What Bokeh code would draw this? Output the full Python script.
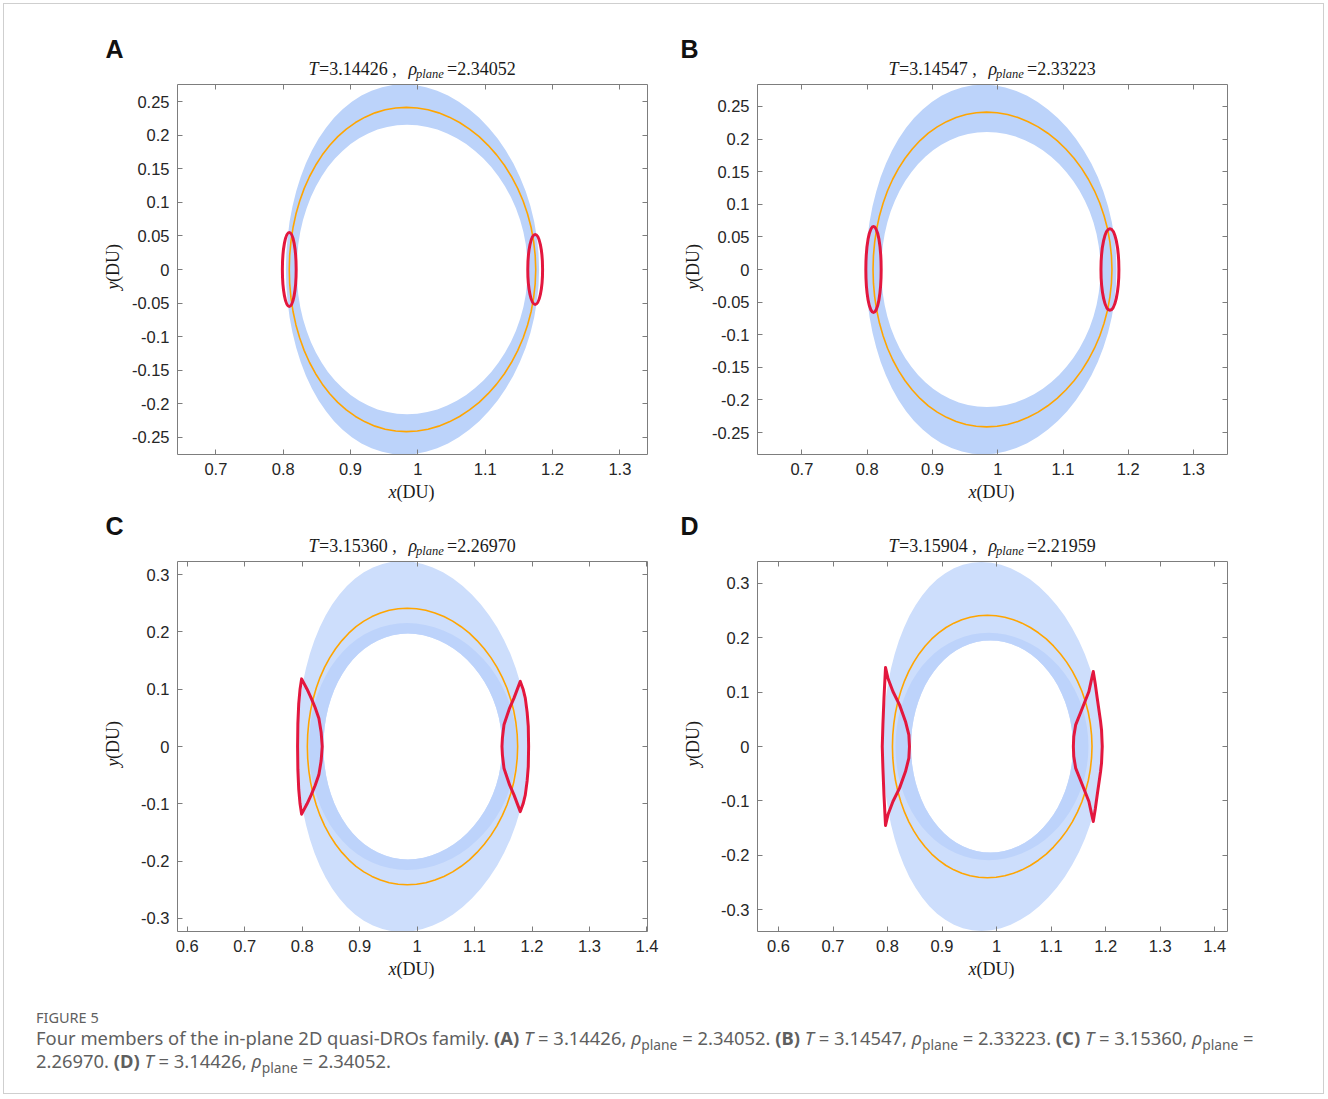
from math import pi
from bokeh.plotting import figure
from bokeh.models import (LinearAxis, FixedTicker, CustomJSTickFormatter,
                          Range1d, Div, Spacer)
from bokeh.layouts import column, row
from bokeh.embed import file_html
from bokeh.resources import INLINE
from bokeh.core.properties import value

# ---------------- data ----------------
PANEL_LETTERS = ["A", "B", "C", "D"]
PANEL_T = ["3.14426", "3.14547", "3.15360", "3.15904"]
PANEL_RHO = ["2.34052", "2.33223", "2.26970", "2.21959"]

X_TICKS_AB = [0.7, 0.8, 0.9, 1.0, 1.1, 1.2, 1.3]
Y_TICKS_AB = [-0.25, -0.2, -0.15, -0.1, -0.05, 0.0, 0.05, 0.1, 0.15, 0.2, 0.25]
X_TICKS_CD = [0.6, 0.7, 0.8, 0.9, 1.0, 1.1, 1.2, 1.3, 1.4]
Y_TICKS_CD = [-0.3, -0.2, -0.1, 0.0, 0.1, 0.2, 0.3]

X_LIMITS = [(0.643, 1.341), (0.632, 1.352), (0.583, 1.401), (0.5615, 1.4235)]
Y_LIMITS = [(-0.2753, 0.2753), (-0.2837, 0.2837), (-0.3228, 0.3228), (-0.3400, 0.3400)]

# periodic DRO (orange), upper half (right crossing -> top -> left crossing)
ORBIT_X = [1.175, 1.1742, 1.1719, 1.1682, 1.1629, 1.1563, 1.1482, 1.1389, 1.1285, 1.1169,
           1.1043, 1.091, 1.0767, 1.0619, 1.0467, 1.031, 1.0151, 0.9991, 0.983, 0.9671,
           0.9515, 0.9362, 0.9215, 0.9073, 0.8937, 0.881, 0.8691, 0.8581, 0.8481, 0.8391,
           0.8312, 0.8245, 0.8189, 0.8146, 0.8115, 0.8096, 0.809]
ORBIT_Y = [0, 0.021, 0.0419, 0.0625, 0.0825, 0.102, 0.1207, 0.1384, 0.1551, 0.1706,
           0.1848, 0.1977, 0.209, 0.2187, 0.2267, 0.2331, 0.2376, 0.2404, 0.2413, 0.2404,
           0.2376, 0.2331, 0.2267, 0.2187, 0.209, 0.1977, 0.1848, 0.1706, 0.1551, 0.1384,
           0.1207, 0.102, 0.0825, 0.0625, 0.0419, 0.021, 0]

# quasi-periodic torus bands (upper halves of boundaries)
A_OUT_X = [1.18, 1.1792, 1.1767, 1.1727, 1.1672, 1.1601, 1.1515, 1.1417, 1.1306, 1.1184,
           1.1052, 1.0911, 1.0762, 1.0607, 1.0448, 1.0286, 1.012, 0.9955, 0.979, 0.9627,
           0.9468, 0.9312, 0.9162, 0.9019, 0.8882, 0.8755, 0.8636, 0.8526, 0.8426, 0.8337,
           0.8259, 0.8193, 0.8138, 0.8095, 0.8065, 0.8046, 0.804]
A_OUT_Y = [0, 0.024, 0.0478, 0.0713, 0.0942, 0.1164, 0.1378, 0.158, 0.1771, 0.1948,
           0.211, 0.2257, 0.2386, 0.2497, 0.2589, 0.2661, 0.2713, 0.2745, 0.2755, 0.2745,
           0.2713, 0.2661, 0.2589, 0.2497, 0.2386, 0.2257, 0.211, 0.1948, 0.1771, 0.158,
           0.1378, 0.1164, 0.0942, 0.0713, 0.0478, 0.024, 0]
A_IN_X = [1.163, 1.1622, 1.1602, 1.1567, 1.1518, 1.1456, 1.1381, 1.1295, 1.1198, 1.109,
          1.0973, 1.0849, 1.0717, 1.0578, 1.0436, 1.0289, 1.014, 0.9991, 0.984, 0.9691,
          0.9544, 0.9401, 0.9262, 0.9128, 0.9001, 0.8881, 0.8769, 0.8664, 0.857, 0.8485,
          0.8411, 0.8348, 0.8294, 0.8253, 0.8224, 0.8206, 0.82]
A_IN_Y = [0, 0.0188, 0.0374, 0.0558, 0.0737, 0.0911, 0.1078, 0.1236, 0.1385, 0.1524,
          0.1651, 0.1765, 0.1866, 0.1953, 0.2025, 0.2082, 0.2122, 0.2147, 0.2155, 0.2147,
          0.2122, 0.2082, 0.2025, 0.1953, 0.1866, 0.1765, 0.1651, 0.1524, 0.1385, 0.1236,
          0.1078, 0.0911, 0.0737, 0.0558, 0.0374, 0.0188, 0]

B_OUT_X = [1.182, 1.1812, 1.1787, 1.1747, 1.169, 1.1619, 1.1533, 1.1434, 1.1321, 1.1198,
           1.1064, 1.092, 1.077, 1.0612, 1.0451, 1.0285, 1.0117, 0.9948, 0.978, 0.9614,
           0.9451, 0.9291, 0.9137, 0.899, 0.885, 0.8718, 0.8596, 0.8482, 0.8379, 0.8288,
           0.8207, 0.8139, 0.8082, 0.8037, 0.8005, 0.7986, 0.798]
B_OUT_Y = [0, 0.0247, 0.0492, 0.0734, 0.097, 0.1198, 0.1418, 0.1626, 0.1822, 0.2005,
           0.2172, 0.2322, 0.2455, 0.2569, 0.2664, 0.2738, 0.2792, 0.2824, 0.2835, 0.2824,
           0.2792, 0.2738, 0.2664, 0.2569, 0.2455, 0.2322, 0.2172, 0.2005, 0.1822, 0.1626,
           0.1418, 0.1198, 0.097, 0.0734, 0.0492, 0.0247, 0]
B_IN_X = [1.1575, 1.1569, 1.1547, 1.1514, 1.1467, 1.1407, 1.1335, 1.1251, 1.1157, 1.1053,
          1.094, 1.0819, 1.069, 1.0556, 1.0417, 1.0274, 1.0129, 0.9981, 0.9835, 0.9689,
          0.9545, 0.9404, 0.9267, 0.9136, 0.901, 0.8891, 0.878, 0.8677, 0.8583, 0.8499,
          0.8425, 0.8361, 0.8309, 0.8268, 0.8239, 0.8221, 0.8215]
B_IN_Y = [0, 0.0184, 0.0366, 0.0546, 0.0722, 0.0892, 0.1055, 0.121, 0.1356, 0.1492,
          0.1616, 0.1729, 0.1827, 0.1912, 0.1983, 0.2038, 0.2078, 0.2102, 0.211, 0.2102,
          0.2078, 0.2038, 0.1983, 0.1912, 0.1827, 0.1729, 0.1616, 0.1492, 0.1356, 0.121,
          0.1055, 0.0892, 0.0722, 0.0546, 0.0366, 0.0184, 0]

C_OUT_X = [1.194, 1.1931, 1.1903, 1.1859, 1.1796, 1.1718, 1.1624, 1.1515, 1.1392, 1.1257,
           1.1111, 1.0957, 1.0794, 1.0625, 1.0451, 1.0273, 1.0096, 0.9917, 0.974, 0.9565,
           0.9396, 0.9231, 0.9073, 0.8921, 0.8778, 0.8645, 0.8521, 0.8407, 0.8306, 0.8213,
           0.8134, 0.8066, 0.801, 0.7967, 0.7935, 0.7917, 0.791]
C_OUT_Y = [0, 0.0282, 0.0562, 0.0837, 0.1106, 0.1367, 0.1618, 0.1856, 0.2079, 0.2287,
           0.2478, 0.265, 0.2802, 0.2932, 0.304, 0.3125, 0.3186, 0.3223, 0.3235, 0.3223,
           0.3186, 0.3125, 0.304, 0.2932, 0.2802, 0.265, 0.2478, 0.2287, 0.2079, 0.1856,
           0.1618, 0.1367, 0.1106, 0.0837, 0.0562, 0.0282, 0]
C_IN_X = [1.148, 1.1473, 1.1453, 1.1421, 1.1376, 1.1319, 1.1251, 1.1171, 1.1081, 1.0982,
          1.0875, 1.076, 1.0639, 1.0512, 1.0382, 1.0248, 1.0113, 0.9977, 0.984, 0.9705,
          0.9573, 0.9444, 0.9318, 0.9198, 0.9083, 0.8976, 0.8875, 0.8782, 0.8699, 0.8623,
          0.8557, 0.8501, 0.8454, 0.8417, 0.8391, 0.8375, 0.837]
C_IN_Y = [0, 0.0172, 0.0342, 0.051, 0.0674, 0.0833, 0.0985, 0.113, 0.1266, 0.1393,
          0.1509, 0.1614, 0.1706, 0.1785, 0.1851, 0.1903, 0.194, 0.1963, 0.197, 0.1963,
          0.194, 0.1903, 0.1851, 0.1785, 0.1706, 0.1614, 0.1509, 0.1393, 0.1266, 0.113,
          0.0985, 0.0833, 0.0674, 0.051, 0.0342, 0.0172, 0]
C_MID_X = [1.1735, 1.1727, 1.1704, 1.1666, 1.1614, 1.1547, 1.1467, 1.1375, 1.127, 1.1155,
           1.1029, 1.0896, 1.0755, 1.0608, 1.0456, 1.03, 1.0142, 0.9984, 0.9825, 0.9668,
           0.9514, 0.9364, 0.9218, 0.9078, 0.8945, 0.882, 0.8703, 0.8595, 0.8498, 0.8409,
           0.8333, 0.8267, 0.8212, 0.817, 0.814, 0.8121, 0.8115]
C_MID_Y = [0, 0.0188, 0.0374, 0.0558, 0.0737, 0.0911, 0.1078, 0.1236, 0.1385, 0.1524,
           0.1651, 0.1765, 0.1866, 0.1953, 0.2025, 0.2082, 0.2122, 0.2147, 0.2155, 0.2147,
           0.2122, 0.2082, 0.2025, 0.1953, 0.1866, 0.1765, 0.1651, 0.1524, 0.1385, 0.1236,
           0.1078, 0.0911, 0.0737, 0.0558, 0.0374, 0.0188, 0]

D_OUT_X = [1.194, 1.193, 1.1903, 1.1858, 1.1795, 1.1715, 1.162, 1.151, 1.1385, 1.125,
           1.1103, 1.0947, 1.0783, 1.0613, 1.0437, 1.0259, 1.0081, 0.9903, 0.9725, 0.9551,
           0.9381, 0.9217, 0.9059, 0.8909, 0.8767, 0.8635, 0.8513, 0.84, 0.8299, 0.8208,
           0.813, 0.8063, 0.8009, 0.7966, 0.7935, 0.7916, 0.791]
D_OUT_Y = [0, 0.0296, 0.0589, 0.0877, 0.1159, 0.1433, 0.1695, 0.1945, 0.2179, 0.2397,
           0.2597, 0.2777, 0.2936, 0.3072, 0.3186, 0.3274, 0.3338, 0.3377, 0.339, 0.3377,
           0.3338, 0.3274, 0.3186, 0.3072, 0.2936, 0.2777, 0.2597, 0.2397, 0.2179, 0.1945,
           0.1695, 0.1433, 0.1159, 0.0877, 0.0589, 0.0296, 0]
D_IN_X = [1.14, 1.1394, 1.1376, 1.1347, 1.1306, 1.1256, 1.1193, 1.1122, 1.1041, 1.095,
          1.0852, 1.0747, 1.0635, 1.0518, 1.0397, 1.0271, 1.0144, 1.0014, 0.9885, 0.9756,
          0.9628, 0.9503, 0.9381, 0.9262, 0.9149, 0.9043, 0.8942, 0.885, 0.8765, 0.8688,
          0.8621, 0.8564, 0.8516, 0.8479, 0.8452, 0.8436, 0.843]
D_IN_Y = [0, 0.017, 0.0339, 0.0505, 0.0667, 0.0824, 0.0975, 0.1119, 0.1253, 0.1379,
          0.1494, 0.1597, 0.1689, 0.1767, 0.1832, 0.1884, 0.192, 0.1943, 0.195, 0.1943,
          0.192, 0.1884, 0.1832, 0.1767, 0.1689, 0.1597, 0.1494, 0.1379, 0.1253, 0.1119,
          0.0975, 0.0824, 0.0667, 0.0505, 0.0339, 0.017, 0]
D_MID_X = [1.1685, 1.1678, 1.1656, 1.1621, 1.1571, 1.1508, 1.1433, 1.1345, 1.1246, 1.1137,
           1.1018, 1.089, 1.0755, 1.0614, 1.0467, 1.0317, 1.0164, 1.0009, 0.9855, 0.9701,
           0.955, 0.9401, 0.9257, 0.9118, 0.8985, 0.886, 0.8742, 0.8633, 0.8534, 0.8445,
           0.8367, 0.83, 0.8245, 0.8201, 0.817, 0.8152, 0.8145]
D_MID_Y = [0, 0.0182, 0.0363, 0.0541, 0.0715, 0.0883, 0.1045, 0.1199, 0.1343, 0.1478,
           0.1601, 0.1712, 0.181, 0.1894, 0.1964, 0.2019, 0.2058, 0.2082, 0.209, 0.2082,
           0.2058, 0.2019, 0.1964, 0.1894, 0.181, 0.1712, 0.1601, 0.1478, 0.1343, 0.1199,
           0.1045, 0.0883, 0.0715, 0.0541, 0.0363, 0.0182, 0]

# red invariant curves, panels A and B (ellipses: centre x, width, height)
RED_A_X = [0.809, 1.1742]
RED_A_W = [0.0205, 0.022]
RED_A_H = [0.110, 0.104]
RED_B_X = [0.8097, 1.1719]
RED_B_W = [0.0235, 0.0275]
RED_B_H = [0.132, 0.125]

# red invariant curves, panels C and D (upper half: outer side -> cusp -> inner side)
RED_C_L_X = [0.792, 0.7925, 0.794, 0.7963, 0.799, 0.8085, 0.8157, 0.8225, 0.829, 0.833, 0.8349]
RED_C_L_Y = [0, 0.04, 0.075, 0.1, 0.118, 0.1, 0.0845, 0.068, 0.0495, 0.025, 0]
RED_C_R_X = [1.1941, 1.1935, 1.1915, 1.1883, 1.1845, 1.1796, 1.1686, 1.161, 1.1512, 1.1485, 1.1477]
RED_C_R_Y = [0, 0.035, 0.06, 0.0844, 0.1, 0.1136, 0.0844, 0.067, 0.0378, 0.015, 0]
RED_D_L_X = [0.7903, 0.7915, 0.7935, 0.7963, 0.8007, 0.8099, 0.822, 0.8329, 0.8391, 0.8402]
RED_D_L_Y = [0, 0.04, 0.09, 0.1452, 0.1256, 0.1011, 0.0765, 0.046, 0.0214, 0]
RED_D_R_X = [1.1938, 1.1925, 1.1907, 1.1846, 1.181, 1.1773, 1.1736, 1.1693, 1.1572, 1.145, 1.1415, 1.1408]
RED_D_R_Y = [0, 0.03, 0.046, 0.0888, 0.115, 0.1379, 0.121, 0.1011, 0.0704, 0.0397, 0.018, 0]

# ---------------- style ----------------
FRAME_W, FRAME_H = 470, 370
BAND_COLOR = "#bcd3fa"
BAND_LIGHT = "#cddefc"
BAND_DENSE = "#bdd3fb"
ORANGE = "#ffa500"
RED = "#e3173e"
AXIS_COLOR = "#7d7d7d"
TICK_TEXT = "#262626"
TEXT = "#1a1a1a"
SERIF = "Liberation Serif"
SANS = "Liberation Sans"
MID = 0.34  # distance (in em) from the alphabetic baseline to the text middle


def mirror_closed(xs, ys):
    """Close an upper-half curve with its mirror image about y = 0."""
    return list(xs) + list(xs[::-1]), list(ys) + [-v for v in ys[::-1]]


def strip(w, h):
    return figure(width=w, height=h, x_range=Range1d(0, w), y_range=Range1d(0, h),
                  output_backend="svg", toolbar_location=None,
                  x_axis_type=None, y_axis_type=None, min_border=0,
                  outline_line_color=None, background_fill_color="white",
                  border_fill_color="white")


def put_text(f, x, y, s, size=18.0, style="normal", font=SERIF, rotated=False, color=TEXT):
    """(x, y) is the start of the alphabetic baseline, in strip pixels."""
    if rotated:
        x, y, angle = x - MID * size, y, pi / 2
    else:
        x, y, angle = x, y + MID * size, 0.0
    f.text(x=[x], y=[y], text=[s], text_font=value(font),
           text_font_size=value("%gpx" % size), text_font_style=value(style),
           text_color=color, angle=angle, text_align="left", text_baseline="middle")


def make_main(i, xticks, yticks):
    xr, yr = X_LIMITS[i], Y_LIMITS[i]
    p = figure(width=550, height=397, frame_width=FRAME_W, frame_height=FRAME_H,
               x_range=Range1d(*xr), y_range=Range1d(*yr),
               output_backend="svg", toolbar_location=None,
               min_border_left=51, min_border_right=33,
               min_border_top=0, min_border_bottom=27,
               background_fill_color="white", border_fill_color="white")
    p.outline_line_color = None
    p.xgrid.visible = False
    p.ygrid.visible = False
    fmt = CustomJSTickFormatter(code="return String(Math.round(tick*1000)/1000);")
    empty = CustomJSTickFormatter(code="return '';")
    for ax, ticks, standoff in ((p.xaxis[0], xticks, 8), (p.yaxis[0], yticks, 8)):
        ax.ticker = FixedTicker(ticks=ticks)
        ax.formatter = fmt
        ax.major_label_standoff = standoff
        ax.major_label_text_font = SANS
        ax.major_label_text_font_size = "16.5px"
        ax.major_label_text_color = TICK_TEXT
    for loc, ticks in (("above", xticks), ("right", yticks)):
        ax = LinearAxis(ticker=FixedTicker(ticks=ticks), formatter=empty,
                        major_label_text_font_size="0px", major_label_standoff=0)
        p.add_layout(ax, loc)
    for ax in p.axis:
        ax.axis_line_color = AXIS_COLOR
        ax.axis_line_width = 1
        ax.major_tick_line_color = AXIS_COLOR
        ax.major_tick_in = 5
        ax.major_tick_out = 0
        ax.minor_tick_line_color = None
    return p


def wrap_panel(i, main, letter_x):
    fl = 77  # frame left inside the 580 px wide panel
    top = strip(580, 54)
    put_text(top, letter_x, 27, PANEL_LETTERS[i], 25, "bold", SANS, color="#111111")
    put_text(top, fl + 131, 9, "T", 18, "italic")
    put_text(top, fl + 141.5, 9, "=" + PANEL_T[i] + " ,", 18)
    put_text(top, fl + 231, 9, "\u03c1", 18, "italic")
    put_text(top, fl + 238.5, 6, "plane", 12.5, "italic")
    put_text(top, fl + 269.5, 9, "=" + PANEL_RHO[i], 18)
    left = strip(26, 397)
    put_text(left, 19, 397 - 220, "y", 18, "italic", rotated=True)
    put_text(left, 19, 397 - 212, "(DU)", 18, rotated=True)
    bottom = strip(580, 26)
    put_text(bottom, fl + 211, 9.5, "x", 18, "italic")
    put_text(bottom, fl + 219, 9.5, "(DU)", 18)
    return column(top, row(left, main), bottom)


def add_band(p, out_xy, in_xy, color):
    ox, oy = mirror_closed(*out_xy)
    ix, iy = mirror_closed(*in_xy)
    p.multi_polygons(xs=[[[ox, ix]]], ys=[[[oy, iy]]], fill_color=color, line_color=None)


def add_orbit(p):
    x, y = mirror_closed(ORBIT_X, ORBIT_Y)
    p.line(x, y, line_color=ORANGE, line_width=1.6)


def add_red_paths(p, paths):
    for xs, ys in paths:
        x, y = mirror_closed(xs, ys)
        p.line(x, y, line_color=RED, line_width=3, line_join="round")


# Panel A
mA = make_main(0, X_TICKS_AB, Y_TICKS_AB)
add_band(mA, (A_OUT_X, A_OUT_Y), (A_IN_X, A_IN_Y), BAND_COLOR)
add_orbit(mA)
mA.ellipse(x=RED_A_X, y=[0, 0], width=RED_A_W, height=RED_A_H,
           fill_color=None, line_color=RED, line_width=3)

# Panel B
mB = make_main(1, X_TICKS_AB, Y_TICKS_AB)
add_band(mB, (B_OUT_X, B_OUT_Y), (B_IN_X, B_IN_Y), BAND_COLOR)
add_orbit(mB)
mB.ellipse(x=RED_B_X, y=[0, 0], width=RED_B_W, height=RED_B_H,
           fill_color=None, line_color=RED, line_width=3)

# Panel C
mC = make_main(2, X_TICKS_CD, Y_TICKS_CD)
add_band(mC, (C_OUT_X, C_OUT_Y), (C_IN_X, C_IN_Y), BAND_LIGHT)
add_band(mC, (C_MID_X, C_MID_Y), (C_IN_X, C_IN_Y), BAND_DENSE)
add_orbit(mC)
add_red_paths(mC, [(RED_C_L_X, RED_C_L_Y), (RED_C_R_X, RED_C_R_Y)])

# Panel D
mD = make_main(3, X_TICKS_CD, Y_TICKS_CD)
add_band(mD, (D_OUT_X, D_OUT_Y), (D_IN_X, D_IN_Y), BAND_LIGHT)
add_band(mD, (D_MID_X, D_MID_Y), (D_IN_X, D_IN_Y), BAND_DENSE)
add_orbit(mD)
add_red_paths(mD, [(RED_D_L_X, RED_D_L_Y), (RED_D_R_X, RED_D_R_Y)])

pA = wrap_panel(0, mA, 5)
pB = wrap_panel(1, mB, 0)
pC = wrap_panel(2, mC, 5)
pD = wrap_panel(3, mD, 0)

SUB = '<sub style="font-size:75%;line-height:0;vertical-align:-0.35em;">plane</sub>'
caption_html = (
    '<div style="font-family:\'Noto Sans\',sans-serif;color:#5f5f5f;padding:25px 0 0 32px;">'
    '<div style="font-size:14.5px;line-height:17px;">FIGURE 5</div>'
    '<div style="font-size:18.4px;line-height:23px;">'
    'Four members of the in-plane 2D quasi-DROs family. '
    '<b>(A)</b> <i>T</i> = 3.14426, <i>\u03c1</i>' + SUB + ' = 2.34052. '
    '<b>(B)</b> <i>T</i> = 3.14547, <i>\u03c1</i>' + SUB + ' = 2.33223. '
    '<b>(C)</b> <i>T</i> = 3.15360, <i>\u03c1</i>' + SUB + ' =<br>'
    '2.26970. <b>(D)</b> <i>T</i> = 3.14426, <i>\u03c1</i>' + SUB + ' = 2.34052.'
    '</div></div>'
)
caption = Div(text=caption_html, width=1319, height=109, margin=0)

layout = column(
    Spacer(width=1319, height=26),
    row(Spacer(width=96, height=477), pA, pB),
    row(Spacer(width=96, height=477), pC, pD),
    caption,
    styles={"border": "1px solid #cfcfcf"},
    margin=(3, 0, 0, 3),
)

open("out.html", "w").write(file_html(layout, INLINE))
